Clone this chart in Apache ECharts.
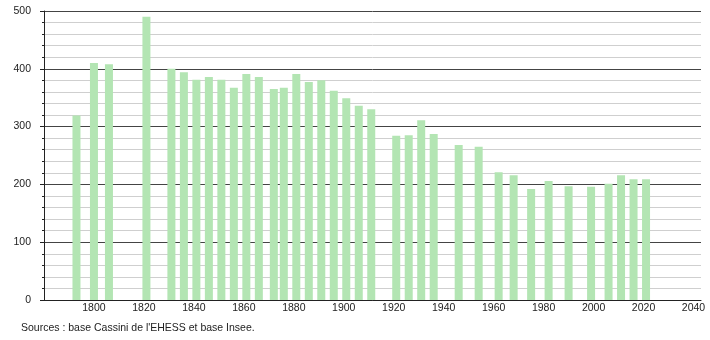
<!DOCTYPE html>
<html><head><meta charset="utf-8">
<script src="https://cdn.jsdelivr.net/npm/echarts@6/dist/echarts.min.js"></script>
<style>html,body{margin:0;padding:0;background:#fff}#c{width:710px;height:340px}</style>
</head><body><div id="c"></div>
<script>
const years = [1793,1800,1806,1821,1831,1836,1841,1846,1851,1856,1861,1866,1872,1876,1881,1886,1891,1896,1901,1906,1911,1921,1926,1931,1936,1946,1954,1962,1968,1975,1982,1990,1999,2006,2011,2016,2021];
const population = [319,410,408,490,400,394,381,386,381,367,391,386,365,367,391,377,380,362,349,336,330,284,285,311,287,268,265,221,216,192,206,197,196,201,216,209,209];
const sourceText = "Sources : base Cassini de l'EHESS et base Insee.";

const chart = echarts.init(document.getElementById('c'), null, {renderer:'canvas'});
chart.setOption({
  animation:false,
  textStyle:{fontFamily:'Liberation Sans, Arial, sans-serif'},
  grid:{left:44,right:9,top:11,bottom:40,containLabel:false},
  xAxis:{type:'value',min:1780,max:2043,interval:20,
    axisLine:{show:true,lineStyle:{color:'#222',width:1}},
    axisTick:{show:false},
    splitLine:{show:false},
    axisLabel:{showMinLabel:false,showMaxLabel:false,color:'#222',fontSize:10.5,margin:3,
      formatter:v=>String(v)}},
  yAxis:{type:'value',min:0,max:500,interval:100,
    axisLine:{show:true,lineStyle:{color:'#222',width:1}},
    axisTick:{show:true,length:4,lineStyle:{color:'#222'}},
    minorTick:{show:true,splitNumber:5,length:2,lineStyle:{color:'#222'}},
    splitLine:{show:true,lineStyle:{color:'#444',width:1}},
    minorSplitLine:{show:true,lineStyle:{color:'#cfcfcf',width:1}},
    axisLabel:{color:'#222',fontSize:10.5,margin:13}},
  series:[{type:'bar',barWidth:8,
    itemStyle:{color:'#b3e5b3'},
    data:years.map((y,i)=>[y,population[i]])}],
  graphic:[{type:'text',left:21,top:323,style:{text:sourceText,fill:'#222',fontSize:10.5,fontFamily:'Liberation Sans, Arial, sans-serif'}}]
});
</script></body></html>
